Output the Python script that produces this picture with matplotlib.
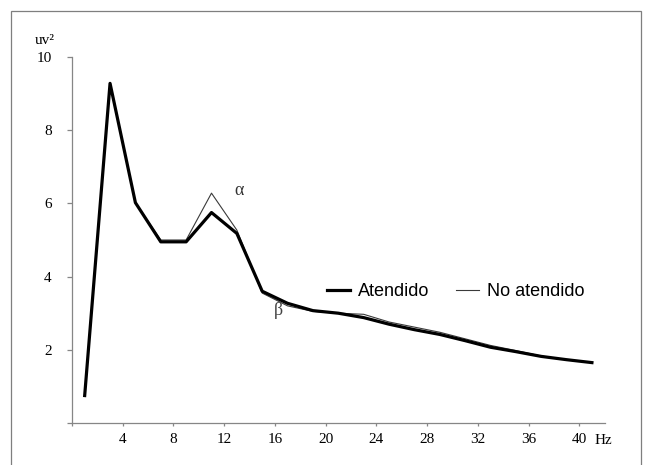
import matplotlib
matplotlib.use("Agg")
import matplotlib.pyplot as plt
from matplotlib.patches import Rectangle

# datos
hz = [1, 3, 5, 7, 9, 11, 13, 15, 17, 19, 21, 23, 25, 27, 29, 31, 33, 35, 37, 39, 41]
atendido = [0.75, 9.28, 6.02, 4.95, 4.95, 5.75, 5.18, 3.6, 3.27, 3.07, 3.0, 2.88,
            2.7, 2.55, 2.42, 2.25, 2.07, 1.95, 1.82, 1.73, 1.65]
no_atendido = [0.75, 9.28, 6.02, 5.0, 5.0, 6.28, 5.27, 3.55, 3.2, 3.05, 3.0, 2.97,
               2.76, 2.62, 2.48, 2.3, 2.12, 1.98, 1.83, 1.73, 1.65]
x_ticks = [0, 4, 8, 12, 16, 20, 24, 28, 32, 36, 40]
x_labels = ['', '4', '8', '12', '16', '20', '24', '28', '32', '36', '40']
y_ticks = [0, 2, 4, 6, 8, 10]
y_labels = ['', '2', '4', '6', '8', '10']

serif = 'Liberation Serif'
sans = 'Liberation Sans'

fig = plt.figure(figsize=(6.46, 4.65), dpi=100)
# marco exterior gris
fig.patches.append(Rectangle((11 / 646, -0.1), 630 / 646, 1.1 - 11 / 465,
                             transform=fig.transFigure, fill=False,
                             edgecolor='#7f7f7f', linewidth=0.9))

ax = fig.add_axes([72 / 646, 1 - 423 / 465, 532.6 / 646, 366 / 465])
ax.plot(hz, no_atendido, color='#3a3a3a', linewidth=0.8, label='No atendido', zorder=2)
ax.plot(hz, atendido, color='black', linewidth=2.3, label='Atendido', zorder=3)

ax.set_xlim(0, 42)
ax.set_ylim(0, 10)
ax.set_xticks(x_ticks)
ax.set_xticklabels(x_labels, family=serif, fontsize=11)
ax.set_yticks(y_ticks)
ax.set_yticklabels(y_labels, family=serif, fontsize=11)

for s in ['top', 'right']:
    ax.spines[s].set_visible(False)
for s in ['left', 'bottom']:
    ax.spines[s].set_color('#868686')
    ax.spines[s].set_linewidth(0.9)
ax.tick_params(axis='y', direction='out', length=3.5, width=0.9, color='#868686', pad=11)
ax.tick_params(axis='x', direction='out', length=2.5, width=0.9, color='#868686', pad=5)

# etiquetas de unidades
fig.text(35 / 646, 1 - 40 / 465, 'uv²', family=serif, fontsize=11, va='center', ha='left')
fig.text(595 / 646, 1 - 440 / 465, 'Hz', family=serif, fontsize=11, va='center', ha='left')

# bandas alfa y beta
ax.text(13.2, 6.35, 'α', family=serif, fontsize=13, ha='center', va='center', color='#333333')
ax.text(16.3, 3.07, 'β', family=serif, fontsize=13, ha='center', va='center', color='#444444')

handles, labels = ax.get_legend_handles_labels()
ax.legend(handles[::-1], labels[::-1], loc='center left', bbox_to_anchor=(0.479, 0.358),
          frameon=False, ncol=2, borderpad=0, borderaxespad=0, handlelength=1.28,
          handletextpad=0.44, columnspacing=1.44, prop={'family': sans, 'size': 13})

fig.savefig('out.png', dpi=100)
